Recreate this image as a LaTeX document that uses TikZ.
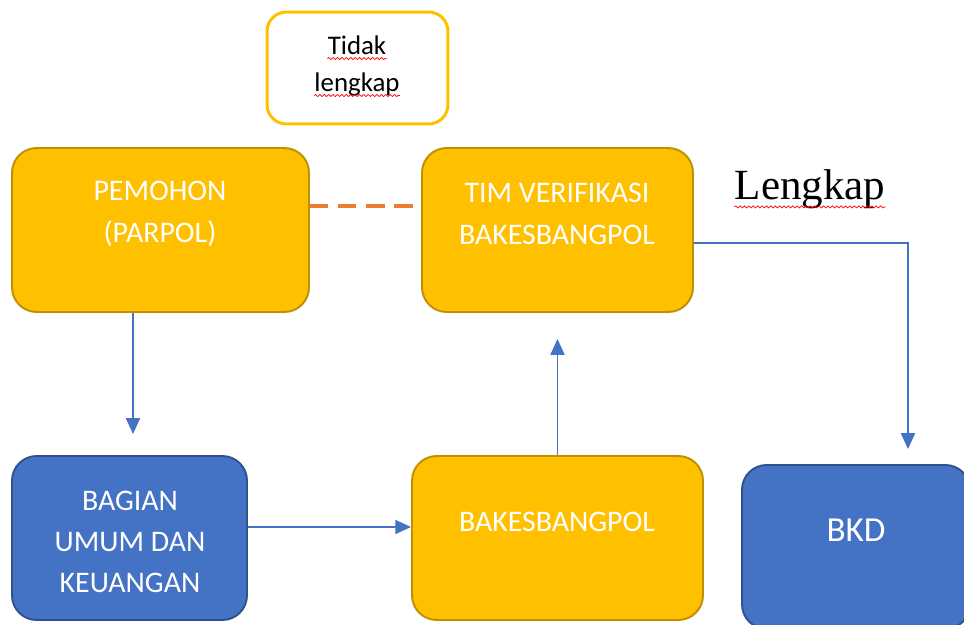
\documentclass[tikz,border=0pt]{standalone}
\usepackage{fontspec}
\setmainfont{Carlito}
\newfontfamily\lengkapfont{Liberation Serif}
\usetikzlibrary{arrows.meta,decorations.pathmorphing}

\definecolor{boxgold}{HTML}{FFC000}
\definecolor{goldedge}{HTML}{BF9000}
\definecolor{boxblue}{HTML}{4472C4}
\definecolor{blueedge}{HTML}{2F528F}
\definecolor{dashorange}{HTML}{ED7D31}

\begin{document}
\begin{tikzpicture}[x=0.02cm, y=-0.02cm,
    goldbox/.style={draw=goldedge, fill=boxgold, line width=1.1pt, rounded corners=14pt, inner sep=0pt},
    bluebox/.style={draw=blueedge, fill=boxblue, line width=1.1pt, rounded corners=14pt, inner sep=0pt},
    boxtext/.style={text=white, font=\fontsize{17}{23.5}\selectfont, align=center},
    flow/.style={draw=boxblue, line width=0.8pt, -{Triangle[width=8pt,length=9pt]}},
    spell/.style={draw=red, line width=0.4pt, decorate, decoration={snake, segment length=2.5pt, amplitude=0.6pt}}]
  \useasboundingbox (0,0) rectangle (964,625);

  % boxes
  \node[draw=boxgold, fill=white, line width=1.7pt, rounded corners=11pt,
        minimum width=3.62cm, minimum height=2.24cm] (tidakbox) at (357.5,68) {};
  \node[goldbox, minimum width=5.94cm, minimum height=3.28cm] (pemohon) at (160.5,230) {};
  \node[goldbox, minimum width=5.42cm, minimum height=3.28cm] (tim) at (557.5,230) {};
  \node[bluebox, minimum width=4.7cm, minimum height=3.28cm] (bagian) at (129.5,538) {};
  \node[goldbox, minimum width=5.82cm, minimum height=3.28cm] (bakes) at (557.5,538) {};
  \node[bluebox, minimum width=4.56cm, minimum height=3.28cm] (bkd) at (856,547) {};

  % box texts
  \node[font=\fontsize{15.3}{18}\selectfont, inner sep=0pt, anchor=base] (tidak-a) at (357,55) {Tidak};
  \node[font=\fontsize{15.3}{18}\selectfont, inner sep=0pt, anchor=base] (tidak-b) at (357,92) {lengkap};
  \node[boxtext] (pemohon-txt) at (160,214) {PEMOHON\\(PARPOL)};
  \node[boxtext] (tim-txt) at (557,214) {TIM VERIFIKASI\\BAKESBANGPOL};
  \node[boxtext] (bagian-txt) at (130,542) {BAGIAN\\UMUM DAN\\KEUANGAN};
  \node[boxtext] (bakes-txt) at (557,522) {BAKESBANGPOL};
  \node[boxtext, font=\fontsize{20}{24}\selectfont] (bkd-txt) at (856,530) {BKD};
  \node[font=\lengkapfont\fontsize{24.5}{28}\selectfont, inner sep=0pt, anchor=base] (lengkap) at (810,199) {Lengkap};

  % spell check marks
  \draw[spell] ([yshift=-2pt]tidak-a.base west) -- ([yshift=-2pt]tidak-a.base east);
  \draw[spell] ([yshift=-2pt]tidak-b.base west) -- ([yshift=-2pt]tidak-b.base east);
  \draw[spell] ([yshift=-4.5pt]lengkap.base west) -- ([yshift=-4.5pt]lengkap.base east);

  % connectors
  \draw[dashorange, line width=2pt, dash pattern=on 10.5pt off 5.5pt]
    ([yshift=0.48cm]pemohon.east) -- ([yshift=0.48cm]tim.west);
  \draw[flow, shorten >=0.42cm] ([xshift=0.07cm]pemohon.south -| bagian.north) -- ([xshift=0.07cm]bagian.north);
  \draw[flow] ([yshift=0.22cm]bagian.east) -- ([yshift=0.22cm]bakes.west);
  \draw[flow, shorten >=0.52cm] (bakes.north) -- (tim.south);
  \draw[flow, shorten >=0.3cm] ([yshift=-0.26cm]tim.east) -| ([xshift=1.04cm]bkd.north);
\end{tikzpicture}
\end{document}
